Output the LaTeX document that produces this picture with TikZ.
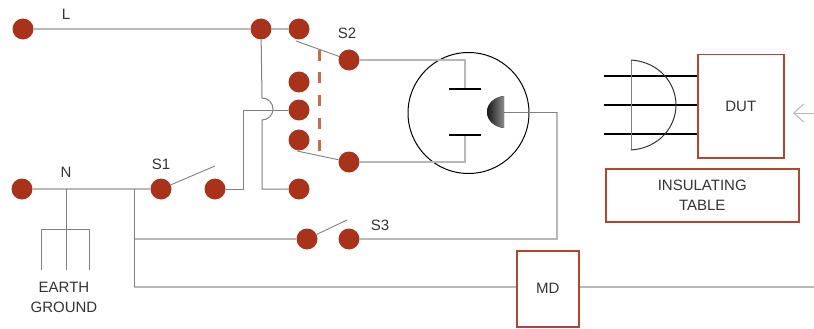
\documentclass[tikz,border=0pt]{standalone}
\usepackage{fontspec}
\setmainfont{Liberation Sans}
\usetikzlibrary{arrows.meta}

\definecolor{terminalred}{HTML}{A8321A}
\definecolor{wiregray}{HTML}{B8B8B8}
\definecolor{boxred}{HTML}{B5452C}
\definecolor{linkorange}{HTML}{CC6A42}
\definecolor{labelgray}{HTML}{333333}

\begin{document}
\begin{tikzpicture}[x=1pt,y=-1pt,
                            terminal/.style={circle,fill=terminalred,inner sep=0pt,minimum size=21pt},
                            wire/.style={wiregray,line width=1.8pt},
                            thin wire/.style={gray,line width=1pt},
                            blade/.style={gray,line width=0.9pt},
                            pin/.style={black,line width=2pt},
                            label text/.style={font=\fontsize{15}{17}\selectfont,text=labelgray,inner sep=0pt,align=center},
                            unit box/.style={draw=boxred,line width=1.5pt,fill=white,inner sep=0pt,anchor=north west}]
            \path[use as bounding box] (0,0) rectangle (814,329);

            \node[terminal] (line in) at (23,29) {};
            \node[terminal] (line tap) at (261,29) {};
            \node[terminal] (s2 upper common) at (299,29) {};
            \node[terminal] (s2 upper out) at (349,60) {};
            \node[terminal] (s2 spare) at (299,82) {};
            \node[terminal] (s2 middle) at (299,110) {};
            \node[terminal] (s2 lower common) at (299,140) {};
            \node[terminal] (s2 lower out) at (349,162) {};
            \node[terminal] (s2 bottom) at (299,189) {};
            \node[terminal] (neutral in) at (22,189) {};
            \node[terminal] (s1 left) at (161,189) {};
            \node[terminal] (s1 right) at (215,189) {};
            \node[terminal] (s3 left) at (307,239) {};
            \node[terminal] (s3 right) at (349,239) {};

            \coordinate (hop top) at (262,98);
            \coordinate (s1 riser) at (243,110);
            \coordinate (earth tap) at (66,189);
            \coordinate (earth mid) at (66,270);
            \coordinate (earth left) at (41,270);
            \coordinate (earth right top) at (89,229);
            \coordinate (earth right) at (89,270);
            \coordinate (branch tap) at (134,189);
            \coordinate (branch s3) at (134,239);
            \coordinate (branch md) at (134,287);
            \coordinate (upper pin) at (465,89);
            \coordinate (lower pin) at (465,135);
            \coordinate (ground pin) at (504,112);
            \coordinate (return corner) at (557,112);
            \coordinate (line end) at (814,287);
            \coordinate (arrow tip) at (793,113);
            \coordinate (arrow end) at (814,113);

            \node[draw=black,line width=1pt,circle,inner sep=0pt,minimum size=121pt] (socket) at (468.5,113) {};
            \node[unit box,minimum width=86pt,minimum height=103pt,label text] (dut) at (697,54) {DUT};
            \node[unit box,minimum width=193pt,minimum height=53pt,label text] (table) at (605,168) {INSULATING\\[3pt]TABLE};
            \node[unit box,minimum width=62pt,minimum height=76pt,label text] (md) at (516,250) {MD};

            \draw[wire] (line in) -- (line tap);
            \draw[wire] (line tap) -- (s2 upper common);
            \draw[wire] (neutral in) -- (s1 left);
            \draw[wire] (branch s3) -- (s3 left);
            \draw[wire] (branch md) -- (md.west |- branch md);
            \draw[wire] (md.east |- branch md) -- (line end);
            \draw[wire] (s2 upper out) -| (upper pin);
            \draw[wire] (s2 lower out) -| (lower pin);
            \draw[wire] (s3 right) -| (return corner);
            \draw[thin wire] (return corner) -- (ground pin);
            \draw[thin wire] (s1 right) -| (s1 riser) -- (s2 middle);
            \draw[thin wire] (line tap) -- (hop top) arc[start angle=90,end angle=-90,radius=11pt] |- (s2 bottom);
            \draw[thin wire] (earth tap) -- (earth mid);
            \draw[thin wire] (earth left) |- (earth right top) -- (earth right);
            \draw[thin wire] (branch tap) -- (branch md);

            \draw[blade] (296,41) -- (s2 upper out);
            \draw[blade] (297,151) -- (s2 lower out);
            \draw[blade] (s1 left) -- (215,166);
            \draw[blade] (s3 left) -- (347,220);
            \draw[linkorange,line width=3pt,dash pattern=on 11pt off 11.5pt] (319,50) -- (319,153);

            \draw[pin] (449,89) -- (481,89);
            \draw[pin] (449,135) -- (481,135);
            \fill[left color=black!90,right color=black!45] (504,96) .. controls (494,97) and (487,104) .. (487,112) .. controls (487,120) and (494,127) .. (504,128) -- cycle;

            \draw[pin] (604,76) -- (dut.west |- 604,76);
            \draw[pin] (604,105) -- (dut.west |- 604,105);
            \draw[pin] (604,134) -- (dut.west |- 604,134);
            \draw[gray,line width=1pt] (631,150) -- (631,60);
            \draw[black!80,line width=1pt] (631,60) .. controls (660,62) and (676,84) .. (676,105) .. controls (676,126) and (660,148) .. (631,150);

            \draw[wiregray,line width=1pt,-{Straight Barb[length=10pt,width=18pt]}] (arrow end) -- (arrow tip);

            \node[label text] (line label) at (66,14) {L};
            \node[label text] (s2 label) at (347,33) {S2};
            \node[label text] (neutral label) at (66,172) {N};
            \node[label text] (s1 label) at (161,164) {S1};
            \node[label text] (s3 label) at (380,225) {S3};
            \node[label text] (earth label) at (64,297) {EARTH\\[3pt]GROUND};
        \end{tikzpicture}
\end{document}
